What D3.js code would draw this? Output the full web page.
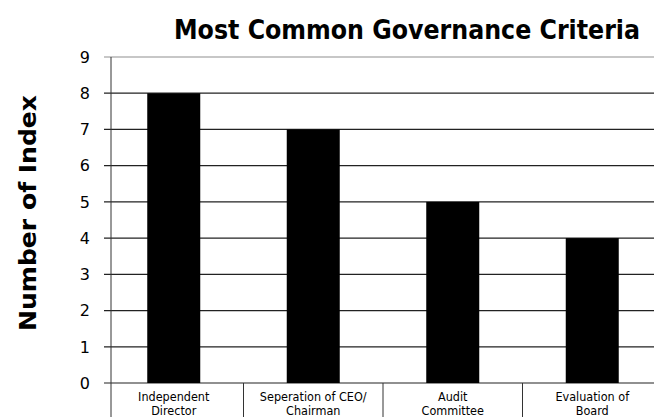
<!DOCTYPE html>
<meta charset="utf-8">
<style>
body { margin: 0; background: #fff; }
text { font-family: "DejaVu Sans Condensed", "DejaVu Sans", sans-serif; fill: #000; }
.grid line { stroke: #222; stroke-width: 1.2; }
</style>
<svg width="654" height="417"></svg>
<script src="https://d3js.org/d3.v7.min.js"></script>
<script>

var categories = [["Independent", "Director"], ["Seperation of CEO/", "Chairman"], ["Audit", "Committee"], ["Evaluation of", "Board"]];
var counts = [8, 7, 5, 4];
var yTicks = [0, 1, 2, 3, 4, 5, 6, 7, 8, 9];

var svg = d3.select("svg");

var x = d3.scaleBand()
    .domain(d3.range(categories.length))
    .range([104, 662]);

var y = d3.scaleLinear()
    .domain([0, 9])
    .range([383, 57]);

var axisX = 111;
var barW = 53;

// grid lines
svg.append("g")
    .attr("class", "grid")
  .selectAll("line")
  .data(yTicks)
  .enter().append("line")
    .attr("x1", axisX - 7)
    .attr("x2", 654)
    .attr("y1", function(d) { return y(d); })
    .attr("y2", function(d) { return y(d); })
    .style("stroke-opacity", function(d) { return d == 9 ? 0.5 : 1; });

// y axis line
svg.append("line")
    .attr("x1", axisX).attr("x2", axisX)
    .attr("y1", y(9)).attr("y2", 417)
    .style("stroke", "#333")
    .style("stroke-width", 1);

// category separators
svg.append("g")
  .selectAll("line")
  .data(d3.range(1, categories.length))
  .enter().append("line")
    .attr("x1", function(d) { return x(d); })
    .attr("x2", function(d) { return x(d); })
    .attr("y1", y(0))
    .attr("y2", 417)
    .style("stroke", "#333")
    .style("stroke-width", 1);

// bars
svg.append("g")
  .selectAll("rect")
  .data(counts)
  .enter().append("rect")
    .attr("x", function(d, i) { return x(i) + x.bandwidth() / 2 - barW / 2; })
    .attr("width", barW)
    .attr("y", function(d) { return y(d); })
    .attr("height", function(d) { return y(0) - y(d); })
    .attr("fill", "#000");

// y tick labels
svg.append("g")
  .selectAll("text")
  .data(yTicks)
  .enter().append("text")
    .attr("x", 90)
    .attr("y", function(d) { return y(d); })
    .attr("dy", "0.36em")
    .attr("text-anchor", "end")
    .style("font-family", "'DejaVu Sans', sans-serif")
    .style("font-size", "16px")
    .text(function(d) { return d; });

// x labels
var lab = svg.append("g")
  .selectAll("text")
  .data(categories)
  .enter().append("text")
    .attr("text-anchor", "middle")
    .style("font-size", "12.5px");
lab.append("tspan")
    .attr("x", function(d, i) { return x(i) + x.bandwidth() / 2; })
    .attr("y", 401)
    .text(function(d) { return d[0]; });
lab.append("tspan")
    .attr("x", function(d, i) { return x(i) + x.bandwidth() / 2; })
    .attr("y", 415)
    .text(function(d) { return d[1]; });

// title
svg.append("text")
    .attr("x", 407)
    .attr("y", 39)
    .attr("text-anchor", "middle")
    .attr("textLength", 466)
    .attr("lengthAdjust", "spacingAndGlyphs")
    .style("font-size", "26px")
    .style("font-weight", "bold")
    .text("Most Common Governance Criteria");

// y title
svg.append("text")
    .attr("transform", "translate(36,213) rotate(-90)")
    .attr("text-anchor", "middle")
    .attr("textLength", 236)
    .attr("lengthAdjust", "spacingAndGlyphs")
    .style("font-size", "23px")
    .style("font-weight", "bold")
    .text("Number of Index");

</script>
